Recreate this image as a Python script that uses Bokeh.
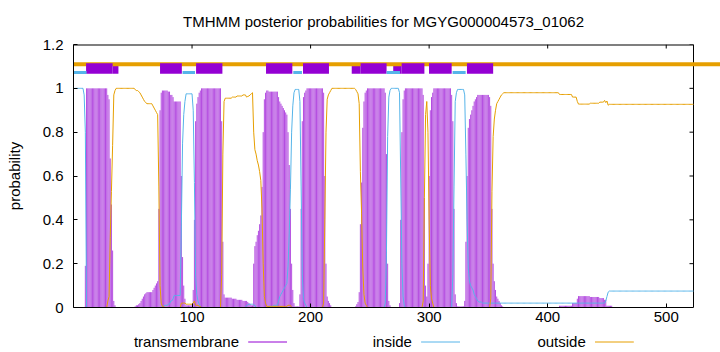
from bokeh.plotting import figure
from bokeh.models import Range1d, LinearAxis, FixedTicker, CustomJSTickFormatter
from bokeh.layouts import column
from bokeh.embed import file_html
from bokeh.resources import INLINE
from bokeh.core.properties import value

TITLE = "TMHMM posterior probabilities for MGYG000004573_01062"
Y_LABEL = "probability"
X_TICKS = [100, 200, 300, 400, 500]
Y_TICKS = [0, 0.2, 0.4, 0.6, 0.8, 1.0, 1.2]
SEQ_LEN = 523
LEGEND = ["transmembrane", "inside", "outside"]
COLORS = {"transmembrane": "#9400d3", "inside": "#56b4e9", "outside": "#e69f00"}

# posterior probability per residue (1..523)
TM = [
    0, 0, 0, 0, 0, 0, 0, 0, 0, 0.19, 1, 1, 1, 1, 1, 1, 1, 1, 1, 1,
    1, 1, 1, 1, 1, 1, 1, 1, 0.97, 0.95, 0.68, 0.47, 0.26, 0.03, 0.01, 0, 0, 0, 0, 0,
    0, 0, 0, 0, 0, 0, 0, 0, 0, 0, 0, 0.005, 0.01, 0.01, 0.015, 0.02, 0.03, 0.04, 0.05, 0.06,
    0.065, 0.07, 0.07, 0.07, 0.07, 0.07, 0.08, 0.09, 0.1, 0.11, 0.12, 0.45, 0.9, 0.98, 0.99, 0.99, 0.99, 0.99, 0.99, 0.985,
    0.985, 0.97, 0.97, 0.96, 0.94, 0.94, 0.94, 0.94, 0.94, 0.94, 0.6, 0.23, 0.1, 0.04, 0.01, 0.01, 0.01, 0.01, 0.01, 0.01,
    0.08, 0.4, 0.85, 0.93, 0.96, 0.98, 0.99, 1, 1, 1, 1, 1, 1, 1, 1, 1, 1, 1, 1, 1,
    1, 1, 1, 1, 0.85, 0.3, 0.06, 0.045, 0.045, 0.045, 0.045, 0.045, 0.045, 0.04, 0.04, 0.04, 0.04, 0.035, 0.035, 0.035,
    0.035, 0.035, 0.03, 0.03, 0.03, 0.03, 0.025, 0.02, 0.015, 0.01, 0.01, 0.2, 0.28, 0.3, 0.33, 0.35, 0.38, 0.42, 0.55, 0.8,
    0.95, 0.98, 0.99, 0.99, 0.985, 0.985, 0.985, 0.985, 0.985, 0.985, 0.985, 0.985, 0.96, 0.94, 0.93, 0.92, 0.91, 0.9, 0.89, 0.88,
    0.8, 0.65, 0.45, 0.2, 0.08, 0.02, 0.005, 0.005, 0.005, 0.005, 0.06, 0.45, 0.85, 0.96, 0.98, 0.99, 1, 1, 1, 1,
    1, 1, 1, 1, 1, 1, 1, 1, 1, 1, 0.98, 0.6, 0.2, 0.05, 0.03, 0.02, 0.01, 0, 0, 0,
    0, 0, 0, 0, 0, 0, 0, 0, 0, 0, 0, 0, 0, 0, 0, 0, 0, 0.005, 0.015, 0.025,
    0.07, 0.38, 0.57, 0.82, 0.94, 0.98, 0.99, 1, 1, 1, 1, 1, 1, 1, 1, 1, 1, 1, 1, 1,
    1, 1, 0.98, 0.7, 0.2, 0.03, 0.01, 0, 0, 0, 0, 0, 0, 0, 0.02, 0.4, 0.8, 0.95, 0.99, 1,
    1, 1, 1, 1, 1, 1, 1, 1, 1, 1, 1, 1, 1, 1, 0.97, 0.5, 0.1, 0.05, 0.2, 0.6,
    0.9, 0.96, 0.98, 1, 1, 1, 1, 1, 1, 1, 1, 1, 1, 1, 1, 1, 1, 1, 0.97, 0.85,
    0.45, 0.06, 0.02, 0.005, 0.005, 0.005, 0.005, 0.005, 0.005, 0.03, 0.3, 0.6, 0.82, 0.86, 0.88, 0.9, 0.92, 0.94, 0.95, 0.96,
    0.97, 0.97, 0.97, 0.97, 0.97, 0.97, 0.97, 0.97, 0.97, 0.97, 0.96, 0.92, 0.45, 0.2, 0.12, 0.08, 0.05, 0.04, 0.03, 0.02,
    0.01, 0.005, 0, 0, 0, 0, 0, 0, 0, 0, 0, 0, 0, 0, 0, 0, 0, 0, 0, 0,
    0, 0, 0, 0, 0, 0, 0, 0, 0, 0, 0, 0, 0, 0, 0, 0, 0, 0, 0, 0,
    0, 0, 0, 0, 0, 0, 0, 0, 0, 0.008, 0.008, 0.008, 0.008, 0.008, 0.008, 0.008, 0.008, 0.008, 0.008, 0.008,
    0.02, 0.02, 0.02, 0.02, 0.04, 0.052, 0.052, 0.052, 0.052, 0.052, 0.052, 0.052, 0.052, 0.052, 0.052, 0.048, 0.048, 0.048, 0.048, 0.048,
    0.048, 0.048, 0.048, 0.043, 0.043, 0.043, 0.043, 0.035, 0.035, 0.008, 0.008, 0.008, 0.008, 0.008, 0, 0, 0, 0, 0, 0,
    0, 0, 0, 0, 0, 0, 0, 0, 0, 0, 0, 0, 0, 0, 0, 0, 0, 0, 0, 0,
    0, 0, 0, 0, 0, 0, 0, 0, 0, 0, 0, 0, 0, 0, 0, 0, 0, 0, 0, 0,
    0, 0, 0, 0, 0, 0, 0, 0, 0, 0, 0, 0, 0, 0, 0, 0, 0, 0, 0, 0,
    0, 0, 0,
]

INSIDE = [
    1, 1, 1, 1, 1, 1, 1, 1, 0.97, 0.8, 0, 0, 0, 0, 0, 0, 0, 0, 0, 0,
    0, 0, 0, 0, 0, 0, 0, 0, 0, 0, 0, 0, 0, 0, 0, 0, 0, 0, 0, 0,
    0, 0, 0, 0, 0, 0, 0, 0, 0, 0, 0, 0, 0, 0, 0, 0, 0, 0, 0, 0,
    0, 0, 0, 0, 0, 0, 0, 0, 0, 0, 0, 0, 0, 0, 0.005, 0.005, 0.01, 0.01, 0.01, 0.015,
    0.015, 0.03, 0.03, 0.04, 0.055, 0.055, 0.055, 0.055, 0.055, 0.055, 0.38, 0.75, 0.88, 0.94, 0.975, 0.975, 0.975, 0.975, 0.975, 0.975,
    0.9, 0.57, 0.14, 0.06, 0.03, 0.015, 0.005, 0, 0, 0, 0, 0, 0, 0, 0, 0, 0, 0, 0, 0,
    0, 0, 0, 0, 0, 0, 0, 0, 0, 0, 0, 0, 0, 0, 0, 0, 0, 0, 0, 0,
    0, 0, 0, 0, 0, 0.01, 0.012, 0.015, 0.015, 0.015, 0.015, 0.012, 0.01, 0, 0, 0, 0, 0, 0, 0,
    0, 0, 0, 0, 0.005, 0.005, 0.005, 0.005, 0.01, 0.01, 0.01, 0.01, 0.03, 0.05, 0.06, 0.07, 0.08, 0.09, 0.1, 0.11,
    0.19, 0.34, 0.54, 0.8, 0.92, 0.98, 0.995, 0.995, 0.995, 0.995, 0.94, 0.55, 0.15, 0.04, 0.02, 0.01, 0, 0, 0, 0,
    0, 0, 0, 0, 0, 0, 0, 0, 0, 0, 0, 0, 0, 0, 0, 0, 0, 0, 0, 0,
    0, 0, 0, 0, 0, 0, 0, 0, 0, 0, 0, 0, 0, 0, 0, 0, 0, 0, 0, 0,
    0, 0, 0, 0, 0, 0, 0, 0, 0, 0, 0, 0, 0, 0, 0, 0, 0, 0, 0, 0,
    0, 0, 0.02, 0.25, 0.78, 0.96, 0.99, 1, 1, 1, 1, 1, 1, 1, 0.98, 0.6, 0.2, 0.05, 0.01, 0,
    0, 0, 0, 0, 0, 0, 0, 0, 0, 0, 0, 0, 0, 0, 0, 0, 0, 0, 0, 0,
    0, 0, 0, 0, 0, 0, 0, 0, 0, 0, 0, 0, 0, 0, 0, 0, 0, 0, 0, 0.15,
    0.55, 0.94, 0.98, 0.995, 0.995, 0.995, 0.995, 0.995, 0.995, 0.97, 0.7, 0.4, 0.18, 0.12, 0.1, 0.09, 0.08, 0.06, 0.05, 0.04,
    0.03, 0.025, 0.025, 0.025, 0.02, 0.02, 0.02, 0.02, 0.02, 0.02, 0.02, 0.02, 0.02, 0.02, 0.02, 0.02, 0.02, 0.02, 0.02, 0.02,
    0.02, 0.02, 0.02, 0.02, 0.02, 0.02, 0.02, 0.02, 0.02, 0.02, 0.02, 0.02, 0.02, 0.02, 0.02, 0.02, 0.02, 0.02, 0.02, 0.02,
    0.02, 0.02, 0.02, 0.02, 0.02, 0.02, 0.02, 0.02, 0.02, 0.02, 0.02, 0.02, 0.02, 0.02, 0.02, 0.02, 0.02, 0.02, 0.02, 0.02,
    0.02, 0.02, 0.02, 0.02, 0.02, 0.02, 0.02, 0.02, 0.02, 0.02, 0.02, 0.02, 0.02, 0.02, 0.02, 0.02, 0.02, 0.02, 0.02, 0.02,
    0.02, 0.02, 0.02, 0.02, 0.02, 0.02, 0.02, 0.02, 0.02, 0.02, 0.02, 0.02, 0.02, 0.02, 0.02, 0.02, 0.02, 0.02, 0.02, 0.02,
    0.02, 0.02, 0.02, 0.02, 0.02, 0.02, 0.02, 0.02, 0.03, 0.05, 0.07, 0.075, 0.075, 0.075, 0.075, 0.075, 0.075, 0.075, 0.075, 0.075,
    0.075, 0.075, 0.075, 0.075, 0.075, 0.075, 0.075, 0.075, 0.075, 0.075, 0.075, 0.075, 0.075, 0.075, 0.075, 0.075, 0.075, 0.075, 0.075, 0.075,
    0.075, 0.075, 0.075, 0.075, 0.075, 0.075, 0.075, 0.075, 0.075, 0.075, 0.075, 0.075, 0.075, 0.075, 0.075, 0.075, 0.075, 0.075, 0.075, 0.075,
    0.075, 0.075, 0.075, 0.075, 0.075, 0.075, 0.075, 0.075, 0.075, 0.075, 0.075, 0.075, 0.075, 0.075, 0.075, 0.075, 0.075, 0.075, 0.075, 0.075,
    0.075, 0.075, 0.075,
]

OUTSIDE = [
    0, 0, 0, 0, 0, 0, 0, 0, 0, 0, 0, 0, 0, 0, 0, 0, 0, 0, 0, 0,
    0, 0, 0, 0, 0, 0, 0, 0, 0.03, 0.05, 0.32, 0.53, 0.74, 0.97, 0.99, 1, 1, 1, 1, 1,
    1, 1, 1, 1, 1, 1, 1, 1, 1, 1, 1, 0.995, 0.99, 0.99, 0.985, 0.98, 0.97, 0.96, 0.95, 0.94,
    0.935, 0.93, 0.93, 0.93, 0.93, 0.93, 0.92, 0.91, 0.9, 0.89, 0.88, 0.55, 0.1, 0.02, 0.005, 0.005, 0, 0, 0, 0,
    0, 0, 0, 0, 0, 0, 0, 0, 0, 0, 0.02, 0.02, 0.02, 0.02, 0.015, 0.015, 0.015, 0.015, 0.015, 0.015,
    0.02, 0.03, 0.01, 0.01, 0.01, 0.005, 0.005, 0, 0, 0, 0, 0, 0, 0, 0, 0, 0, 0, 0, 0,
    0, 0, 0, 0, 0.15, 0.7, 0.94, 0.955, 0.955, 0.955, 0.955, 0.955, 0.955, 0.96, 0.96, 0.96, 0.96, 0.965, 0.965, 0.965,
    0.965, 0.965, 0.97, 0.97, 0.97, 0.96, 0.963, 0.965, 0.97, 0.975, 0.98, 0.8, 0.72, 0.7, 0.67, 0.65, 0.62, 0.58, 0.45, 0.2,
    0.05, 0.02, 0.005, 0.005, 0.005, 0.005, 0.005, 0.005, 0.005, 0.005, 0.005, 0.005, 0.005, 0.005, 0.005, 0.005, 0.005, 0.005, 0.005, 0.005,
    0.01, 0.01, 0.01, 0, 0, 0, 0, 0, 0, 0, 0, 0, 0, 0, 0, 0, 0, 0, 0, 0,
    0, 0, 0, 0, 0, 0, 0, 0, 0, 0, 0.02, 0.4, 0.8, 0.95, 0.97, 0.98, 0.99, 1, 1, 1,
    1, 1, 1, 1, 1, 1, 1, 1, 1, 1, 1, 1, 1, 1, 1, 1, 1, 0.995, 0.985, 0.975,
    0.93, 0.62, 0.43, 0.18, 0.06, 0.02, 0.01, 0, 0, 0, 0, 0, 0, 0, 0, 0, 0, 0, 0, 0,
    0, 0, 0, 0, 0, 0, 0, 0, 0, 0, 0, 0, 0, 0, 0, 0, 0, 0, 0, 0,
    0, 0, 0, 0, 0, 0, 0, 0, 0, 0, 0, 0, 0, 0, 0.03, 0.5, 0.88, 0.94, 0.8, 0.4,
    0.1, 0.04, 0.02, 0, 0, 0, 0, 0, 0, 0, 0, 0, 0, 0, 0, 0, 0, 0, 0, 0,
    0, 0, 0, 0, 0, 0, 0, 0, 0, 0, 0, 0, 0, 0, 0, 0, 0, 0, 0, 0,
    0, 0, 0, 0, 0, 0, 0, 0, 0, 0, 0, 0.04, 0.53, 0.78, 0.86, 0.9, 0.93, 0.94, 0.95, 0.96,
    0.97, 0.975, 0.98, 0.98, 0.98, 0.98, 0.98, 0.98, 0.98, 0.98, 0.98, 0.98, 0.98, 0.98, 0.98, 0.98, 0.98, 0.98, 0.98, 0.98,
    0.98, 0.98, 0.98, 0.98, 0.98, 0.98, 0.98, 0.98, 0.98, 0.98, 0.98, 0.98, 0.98, 0.98, 0.98, 0.98, 0.98, 0.98, 0.98, 0.98,
    0.98, 0.98, 0.98, 0.98, 0.98, 0.98, 0.98, 0.98, 0.98, 0.972, 0.972, 0.972, 0.972, 0.972, 0.972, 0.972, 0.972, 0.972, 0.972, 0.972,
    0.96, 0.96, 0.96, 0.96, 0.94, 0.928, 0.928, 0.928, 0.928, 0.928, 0.928, 0.928, 0.928, 0.928, 0.928, 0.932, 0.932, 0.932, 0.932, 0.932,
    0.932, 0.932, 0.932, 0.937, 0.937, 0.937, 0.937, 0.945, 0.935, 0.942, 0.923, 0.927, 0.927, 0.927, 0.927, 0.927, 0.927, 0.927, 0.927, 0.927,
    0.927, 0.927, 0.927, 0.927, 0.927, 0.927, 0.927, 0.927, 0.927, 0.927, 0.927, 0.927, 0.927, 0.927, 0.927, 0.927, 0.927, 0.927, 0.927, 0.927,
    0.927, 0.927, 0.927, 0.927, 0.927, 0.927, 0.927, 0.927, 0.927, 0.927, 0.927, 0.927, 0.927, 0.927, 0.927, 0.927, 0.927, 0.927, 0.927, 0.927,
    0.927, 0.927, 0.927, 0.927, 0.927, 0.927, 0.927, 0.927, 0.927, 0.927, 0.927, 0.927, 0.927, 0.927, 0.927, 0.927, 0.927, 0.927, 0.927, 0.927,
    0.927, 0.927, 0.927,
]

# predicted topology strip along the top (residue ranges)
TM_BOXES = [(10.6, 33.0), (73.0, 91.4), (103.4, 125.6), (162.4, 184.6), (193.6, 215.5),
            (242.2, 264.1), (276.8, 296.0), (299.9, 319.0), (331.9, 354.0)]
TM_BOX_TAILS = [(33.0, 37.9), (234.7, 242.2), (269.7, 276.8)]
INSIDE_BARS = [(0.0, 11.0), (92.0, 102.5), (185.4, 192.7), (264.1, 275.4), (319.8, 330.8)]

assert len(TM) == SEQ_LEN and len(INSIDE) == SEQ_LEN and len(OUTSIDE) == SEQ_LEN
RES = list(range(1, SEQ_LEN + 1))

FONT = "Liberation Sans"
FS = "15px"
W = 720
TITLE_H = 34
LEG_H = 22
MAIN_H = 352 - TITLE_H - LEG_H
FRAME_L = 73
FRAME_R_DATA = 693
FRAME_TOP = 10
FRAME_BOTTOM = 23
FRAME_H = MAIN_H - FRAME_TOP - FRAME_BOTTOM
X_END = SEQ_LEN * (W - FRAME_L) / (FRAME_R_DATA - FRAME_L)
PX_X = (FRAME_R_DATA - FRAME_L) / SEQ_LEN
PX_Y = FRAME_H / 1.2


def bare(height):
    # the column aligns frames with the main plot, so the frame spans canvas px FRAME_L..W
    f = figure(width=W, height=height, x_range=Range1d(FRAME_L, W), y_range=Range1d(0, height),
               output_backend="svg", toolbar_location=None,
               x_axis_location=None, y_axis_location=None, min_border=0)
    f.outline_line_color = None
    f.grid.grid_line_color = None
    return f


# title strip
tf = bare(TITLE_H)
tf.text(x=[(FRAME_L + FRAME_R_DATA) / 2], y=[TITLE_H - 21], text=[TITLE],
        text_align="center", text_baseline="middle", text_font=value(FONT),
        text_font_size=FS, text_color="black")

# main plot
p = figure(width=W, height=MAIN_H, x_range=Range1d(0, X_END), y_range=Range1d(0, 1.2),
           output_backend="svg", toolbar_location=None,
           x_axis_location=None, y_axis_location=None,
           min_border_left=FRAME_L, min_border_right=0,
           min_border_top=FRAME_TOP, min_border_bottom=FRAME_BOTTOM)
p.outline_line_color = None
p.grid.grid_line_color = None

common = dict(axis_line_color="black", major_tick_line_color="black",
              major_tick_in=4, major_tick_out=0, minor_tick_line_color=None,
              major_label_text_font=FONT, major_label_text_font_size=FS,
              major_label_text_color="black")

yaxis = LinearAxis(ticker=FixedTicker(ticks=Y_TICKS),
                   formatter=CustomJSTickFormatter(code="return tick.toString();"),
                   axis_label=Y_LABEL, axis_label_text_font=FONT,
                   axis_label_text_font_size=FS, axis_label_text_font_style="normal",
                   axis_label_text_color="black", axis_label_standoff=17,
                   major_label_standoff=10, **common)
p.add_layout(yaxis, "left")

xaxis = LinearAxis(ticker=FixedTicker(ticks=X_TICKS), bounds=(0, SEQ_LEN),
                   major_label_standoff=4, **common)
p.add_layout(xaxis, "below")

# top and right border with inward ticks (mirror of the axes)
p.segment(x0=[0], y0=[1.2], x1=[SEQ_LEN], y1=[1.2], line_color="black", line_width=2)
p.segment(x0=[SEQ_LEN], y0=[0], x1=[SEQ_LEN], y1=[1.2], line_color="black", line_width=1)
tx = 4 / PX_X
ty = 4 / PX_Y
p.segment(x0=[SEQ_LEN - tx] * len(Y_TICKS), y0=Y_TICKS,
          x1=[SEQ_LEN] * len(Y_TICKS), y1=Y_TICKS, line_color="black", line_width=1)
p.segment(x0=X_TICKS, y0=[1.2] * len(X_TICKS), x1=X_TICKS, y1=[1.2 - ty] * len(X_TICKS),
          line_color="black", line_width=1)

# transmembrane impulses, inside and outside curves
nz = [(r, t) for r, t in zip(RES, TM) if t > 0]
p.segment(x0=[r for r, _ in nz], y0=[0] * len(nz), x1=[r for r, _ in nz], y1=[t for _, t in nz],
          line_color=COLORS["transmembrane"], line_width=0.7)
p.line(RES, INSIDE, line_color=COLORS["inside"], line_width=1)
p.line(RES, OUTSIDE, line_color=COLORS["outside"], line_width=1)

# topology strip
BOX_B, BOX_T = 1.0663, 1.1147
p.quad(left=[a for a, _ in TM_BOX_TAILS], right=[b for _, b in TM_BOX_TAILS],
       bottom=BOX_B, top=BOX_T, fill_color=COLORS["transmembrane"], line_color=None)
p.segment(x0=[0], y0=[1.110], x1=[X_END], y1=[1.110], line_color=COLORS["outside"], line_width=4)
p.quad(left=[a for a, _ in TM_BOXES], right=[b for _, b in TM_BOXES],
       bottom=BOX_B, top=BOX_T, fill_color=COLORS["transmembrane"], line_color=None)
p.segment(x0=[a for a, _ in INSIDE_BARS], y0=[1.0722] * len(INSIDE_BARS),
          x1=[b for _, b in INSIDE_BARS], y1=[1.0722] * len(INSIDE_BARS),
          line_color=COLORS["inside"], line_width=3)

# legend strip (label followed by line sample, gnuplot style)
lf = bare(LEG_H)
text_right = [238.5, 411.4, 585.3]
line_start = [247.7, 420.6, 594.5]
line_end = [286.5, 459.5, 633.3]
ty_text = LEG_H - 11
ly = LEG_H - 11.5
lf.text(x=text_right, y=[ty_text] * 3, text=LEGEND, text_align="right",
        text_baseline="middle", text_font=value(FONT), text_font_size=FS, text_color="black")
for name, x0, x1 in zip(LEGEND, line_start, line_end):
    lf.segment(x0=[x0], y0=[ly], x1=[x1], y1=[ly], line_color=COLORS[name], line_width=1)

layout = column(tf, p, lf, spacing=0)
open("out.html", "w").write(file_html(layout, INLINE))
